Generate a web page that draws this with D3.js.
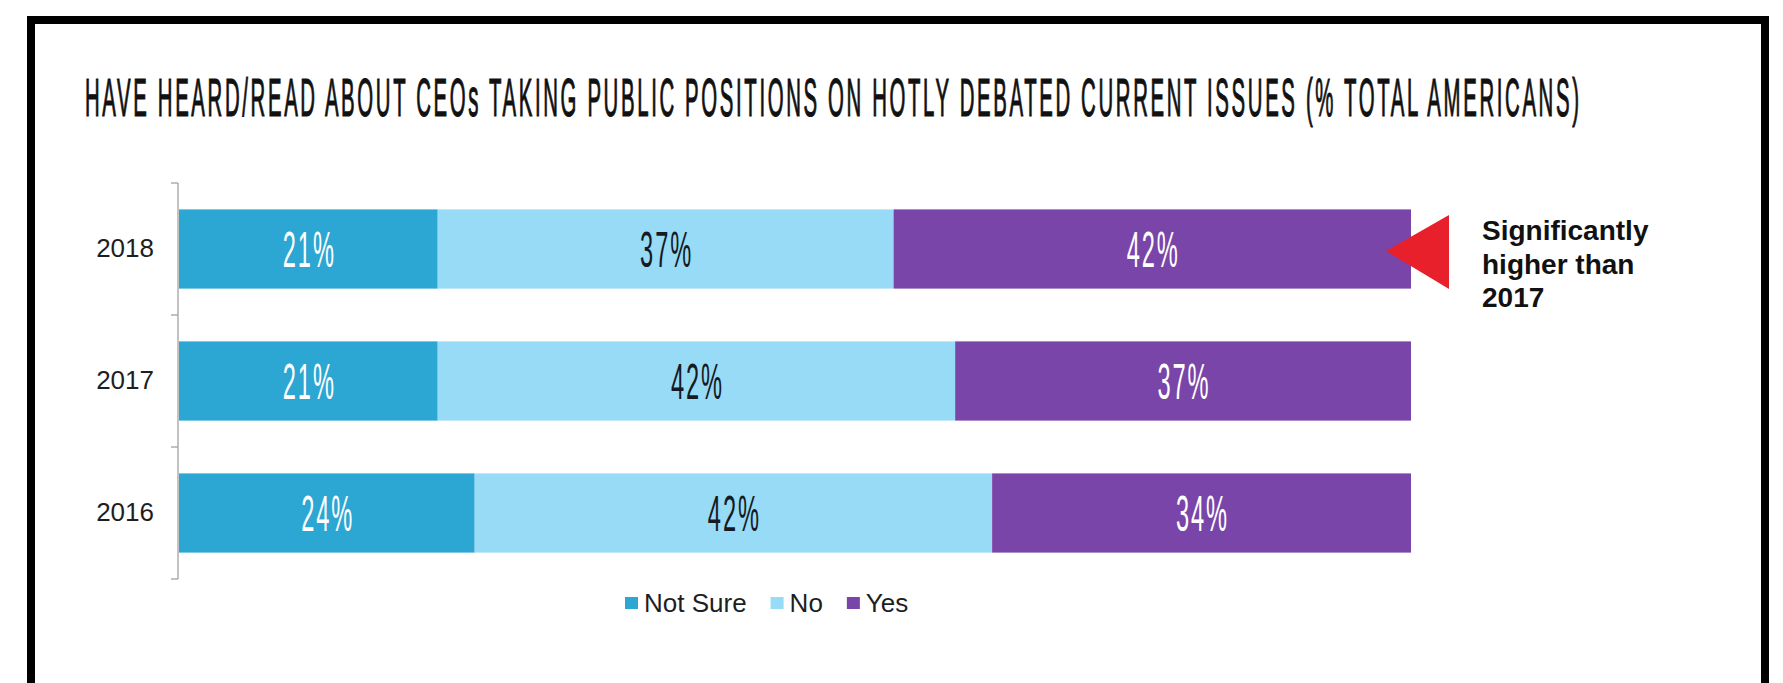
<!DOCTYPE html>
<html>
<head>
<meta charset="utf-8">
<script src="https://cdn.jsdelivr.net/npm/d3@7"></script>
<style>
  body { margin: 0; background: #fff; }
  svg { display: block; }
</style>
</head>
<body>
<div id="chart"></div>
<script>
// values
const years = ['2018', '2017', '2016'];
const seriesNames = ['Not Sure', 'No', 'Yes'];
const notSure = [21, 21, 24];
const no = [37, 42, 42];
const yes = [42, 37, 34];
const title = 'HAVE HEARD/READ ABOUT CEOs TAKING PUBLIC POSITIONS ON HOTLY DEBATED CURRENT ISSUES (% TOTAL AMERICANS)';
const noteLines = ['Significantly', 'higher than', '2017'];
const noteYear = '2018';

const size = { width: 1783, height: 683 };

const color = d3
  .scaleOrdinal()
  .domain(seriesNames)
  .range(['#2ca6d2', '#98dbf6', '#7a45a8']);

const labelColor = (key) => (key === 'No' ? '#151a24' : '#ffffff');

const rows = years.map((year, i) => ({
  year,
  'Not Sure': notSure[i],
  No: no[i],
  Yes: yes[i],
}));

// squeeze a text horizontally to a target width (stand-in for the condensed font)
const squeeze = (sel, width, anchorX) => {
  sel.each(function (d) {
    const w = this.getComputedTextLength();
    const k = (typeof width === 'function' ? width(d) : width) / w;
    const ax = typeof anchorX === 'function' ? anchorX(d) : anchorX;
    d3.select(this).attr('transform', `translate(${ax * (1 - k)},0) scale(${k},1)`);
  });
};

const svg = d3
  .select('#chart')
  .append('svg')
  .attr('width', size.width)
  .attr('height', size.height);

// black frame, runs off the bottom like the original
svg
  .append('rect')
  .attr('x', 31)
  .attr('y', 20)
  .attr('width', 1734)
  .attr('height', 720)
  .attr('fill', 'none')
  .attr('stroke', '#000')
  .attr('stroke-width', 8);

svg
  .append('text')
  .text(title)
  .attr('x', 85)
  .attr('y', 116)
  .style('font-family', '"Liberation Sans", Arial, sans-serif')
  .style('font-size', '54px')
  .style('letter-spacing', '7px')
  .attr('fill', '#111')
  .attr('stroke', '#111')
  .attr('stroke-width', 1.2)
  .call(squeeze, 1497, 85);

const x = d3.scaleLinear().domain([0, 100]).range([179, 1411]);

const y = d3
  .scaleBand()
  .domain(years)
  .range([183, 579])
  .paddingInner(0.4)
  .paddingOuter(0.2);

const stacked = d3.stack().keys(seriesNames)(rows);

const layers = svg
  .selectAll('.layer')
  .data(stacked)
  .join('g')
  .attr('class', 'layer')
  .attr('fill', (d) => color(d.key));

layers
  .selectAll('rect')
  .data((d) => d)
  .join('rect')
  .attr('x', (d) => x(d[0]))
  .attr('y', (d) => y(d.data.year))
  .attr('width', (d) => x(d[1]) - x(d[0]))
  .attr('height', y.bandwidth());

// condensed value labels
const midX = (d) => (x(d[0]) + x(d[1])) / 2;
layers
  .selectAll('text')
  .data((d) => d.map((v) => ({ ...v, key: d.key })))
  .join('text')
  .text((d) => `${d[1] - d[0]}%`)
  .attr('x', (d) => midX(d) + 2)
  .attr('y', (d) => y(d.data.year) + y.bandwidth() / 2 + 18)
  .attr('text-anchor', 'middle')
  .style('font-family', '"Liberation Sans", Arial, sans-serif')
  .style('font-size', '50px')
  .style('letter-spacing', '4px')
  .attr('fill', (d) => labelColor(d.key))
  .call(squeeze, 53, midX);

// category axis: a bracket with ticks between the bands
const axisX = 178;
const bounds = [y.range()[0], ...years.map((d) => y(d) + y.bandwidth() + (y.step() - y.bandwidth()) / 2)];
const axisG = svg.append('g').attr('stroke', '#9a9a9a').attr('stroke-width', 1.2);
axisG
  .append('line')
  .attr('x1', axisX)
  .attr('x2', axisX)
  .attr('y1', bounds[0])
  .attr('y2', bounds[bounds.length - 1]);
bounds.forEach((b) => {
  axisG
    .append('line')
    .attr('x1', axisX - 7)
    .attr('x2', axisX)
    .attr('y1', b)
    .attr('y2', b);
});

svg
  .append('g')
  .attr('transform', `translate(${axisX - 24}, 0)`)
  .call(d3.axisLeft(y).tickSize(0).tickPadding(0))
  .call((g) => g.select('.domain').remove())
  .selectAll('text')
  .style('font-family', '"Liberation Sans", Arial, sans-serif')
  .style('font-size', '26px')
  .attr('fill', '#1e1e1e');

// legend
const legend = svg.append('g').attr('transform', 'translate(625, 603)');
let lx = 0;
seriesNames.forEach((name) => {
  legend
    .append('rect')
    .attr('x', lx)
    .attr('y', -6)
    .attr('width', 13)
    .attr('height', 12)
    .attr('fill', color(name));
  const t = legend
    .append('text')
    .text(name)
    .attr('x', lx + 19)
    .attr('y', 9)
    .style('font-family', '"Liberation Sans", Arial, sans-serif')
    .style('font-size', '26px')
    .attr('fill', '#1e1e1e');
  lx += 19 + t.node().getComputedTextLength() + 24;
});

// red marker + note next to the 2018 bar
const cy = y(noteYear) + y.bandwidth() / 2 + 2;
const tipX = x(100) - 25;
svg
  .append('path')
  .attr('d', `M${tipX},${cy} L${tipX + 63},${cy - 36} L${tipX + 63},${cy + 38} Z`)
  .attr('fill', '#e8202b');

svg
  .append('g')
  .selectAll('text')
  .data(noteLines)
  .join('text')
  .text((d) => d)
  .attr('x', 1482)
  .attr('y', (d, i) => 240 + i * 33.5)
  .style('font-family', '"Liberation Sans", Arial, sans-serif')
  .style('font-weight', 'bold')
  .style('font-size', '28px')
  .attr('fill', '#111');
</script>
</body>
</html>
